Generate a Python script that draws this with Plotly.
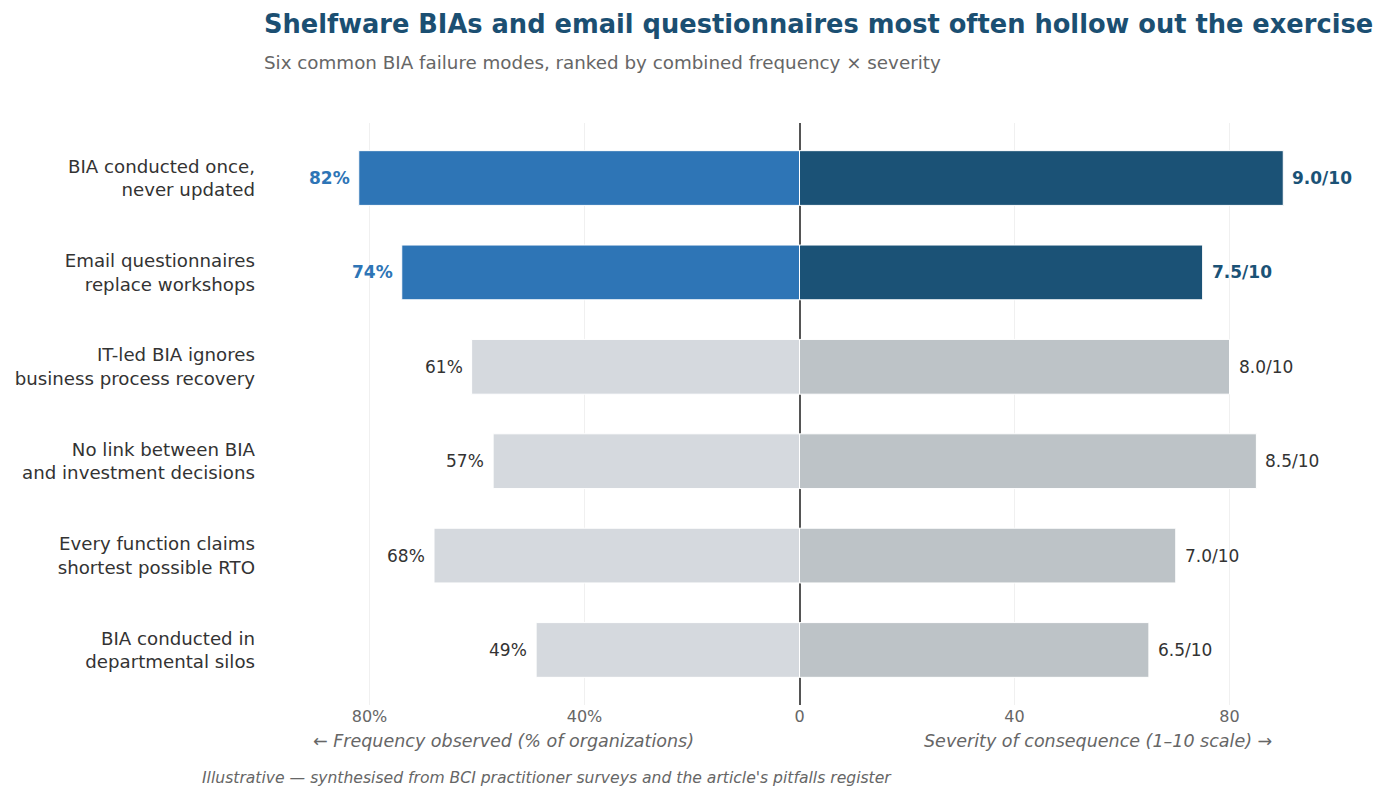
import plotly.graph_objects as go

categories = [
    "BIA conducted once,<br>never updated",
    "Email questionnaires<br>replace workshops",
    "IT-led BIA ignores<br>business process recovery",
    "No link between BIA<br>and investment decisions",
    "Every function claims<br>shortest possible RTO",
    "BIA conducted in<br>departmental silos",
]
frequency_pct = [82, 74, 61, 57, 68, 49]
severity = [9.0, 7.5, 8.0, 8.5, 7.0, 6.5]
highlight = [True, True, False, False, False, False]
x_tickvals = [-80, -40, 0, 40, 80]
x_ticktext = ["80%", "40%", "0", "40", "80"]

FONT = "DejaVu Sans"
LEFT_HI, LEFT_LO = "#2e75b6", "#d5d9de"
RIGHT_HI, RIGHT_LO = "#1b5276", "#bdc3c7"

left_x = [-v for v in frequency_pct]
right_x = [s * 10 for s in severity]

fig = go.Figure()
fig.add_trace(go.Bar(
    y=categories, x=left_x, orientation="h", width=0.58,
    marker=dict(color=[LEFT_HI if h else LEFT_LO for h in highlight],
                line=dict(color="white", width=1)),
    hoverinfo="skip", showlegend=False,
))
fig.add_trace(go.Bar(
    y=categories, x=right_x, orientation="h", width=0.58,
    marker=dict(color=[RIGHT_HI if h else RIGHT_LO for h in highlight],
                line=dict(color="white", width=1)),
    hoverinfo="skip", showlegend=False,
))

annotations = []
for cat, lx, rx, f, s, h in zip(categories, left_x, right_x, frequency_pct, severity, highlight):
    annotations.append(dict(
        x=lx, y=cat, xref="x", yref="y", xanchor="right", xshift=-7,
        text=(f"<b>{f}%</b>" if h else f"{f}%"), showarrow=False,
        font=dict(family=FONT, size=17, color=LEFT_HI if h else "#333333"),
    ))
    annotations.append(dict(
        x=rx, y=cat, xref="x", yref="y", xanchor="left", xshift=7,
        text=(f"<b>{s:.1f}/10</b>" if h else f"{s:.1f}/10"), showarrow=False,
        font=dict(family=FONT, size=17, color=RIGHT_HI if h else "#333333"),
    ))

annotations += [
    dict(x=-55, y=0, xref="x", yref="paper", yshift=-36, yanchor="middle",
         text="← Frequency observed (% of organizations)", showarrow=False,
         font=dict(family=FONT, size=17.5, color="#666666", style="italic")),
    dict(x=55.5, y=0, xref="x", yref="paper", yshift=-36, yanchor="middle",
         text="Severity of consequence (1–10 scale) →", showarrow=False,
         font=dict(family=FONT, size=17.5, color="#666666", style="italic")),
    dict(x=-0.0577, y=0, xref="paper", yref="paper", yshift=-73, yanchor="middle",
         xanchor="left",
         text="Illustrative — synthesised from BCI practitioner surveys and the article's pitfalls register",
         showarrow=False,
         font=dict(family=FONT, size=15.6, color="#666666", style="italic")),
    dict(x=0, y=1, xref="paper", yref="paper", yshift=99, yanchor="middle",
         xanchor="left",
         text="<b>Shelfware BIAs and email questionnaires most often hollow out the exercise</b>",
         showarrow=False, font=dict(family=FONT, size=25.7, color="#1b4f72")),
    dict(x=0, y=1, xref="paper", yref="paper", yshift=61, yanchor="middle",
         xanchor="left",
         text="Six common BIA failure modes, ranked by combined frequency × severity",
         showarrow=False, font=dict(family=FONT, size=18.3, color="#666666")),
]

fig.update_layout(
    width=1386, height=800,
    margin=dict(l=262, r=49, t=123, b=95),
    paper_bgcolor="white", plot_bgcolor="white",
    barmode="relative", bargap=0.42,
    font=dict(family=FONT, color="#333333"),
    annotations=annotations,
    xaxis=dict(range=[-100, 100], tickvals=x_tickvals, ticktext=x_ticktext,
               showgrid=True, gridcolor="#f0f0f0", gridwidth=1,
               zeroline=True, zerolinecolor="#555555", zerolinewidth=1.5,
               tickfont=dict(family=FONT, size=16, color="#666666"),
               fixedrange=True, showline=False),
    yaxis=dict(categoryorder="array", categoryarray=categories,
               range=[5.583, -0.583], showgrid=False, zeroline=False,
               tickfont=dict(family=FONT, size=18.2, color="#333333"),
               ticklabelstandoff=6, fixedrange=True),
)

fig.write_html("out.html")
